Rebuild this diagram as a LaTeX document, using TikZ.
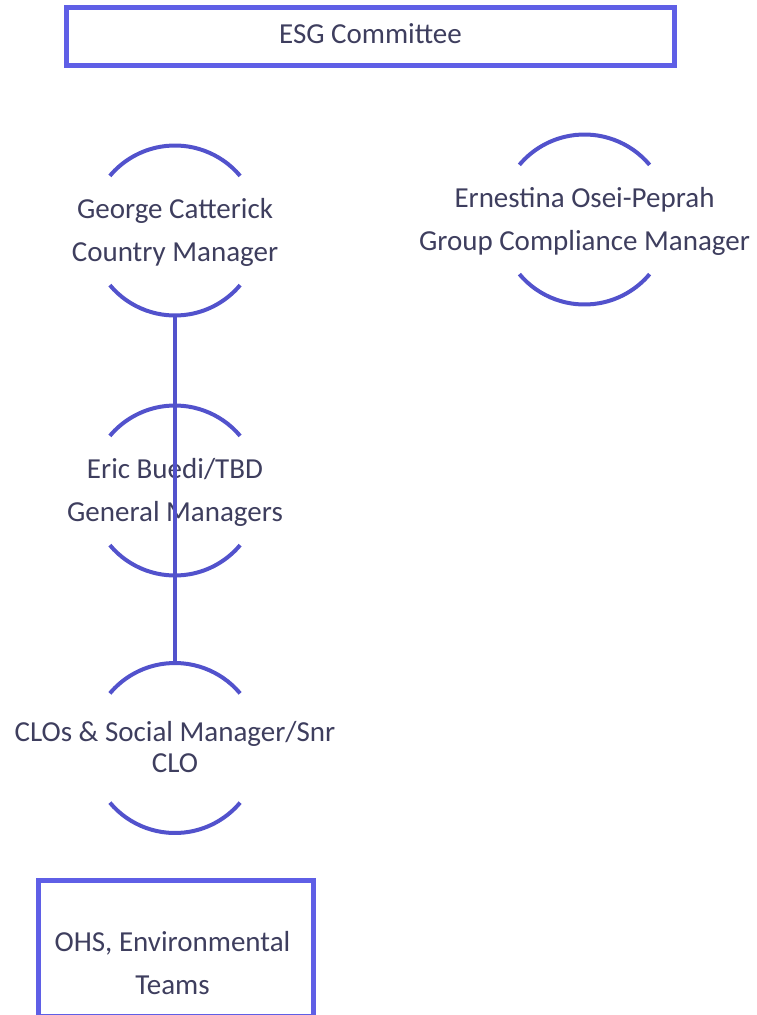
\documentclass[tikz,border=0pt]{standalone}
\usepackage{fontspec}
\setmainfont{Carlito}
\usetikzlibrary{positioning}
\tikzset{
    % Colors
    frame color/.style={color={rgb,255:red,95;green,95;blue,230}},
    ring color/.style={color={rgb,255:red,82;green,82;blue,204}},
    label color/.style={text={rgb,255:red,62;green,62;blue,94}},
    %
    % Nodes
    unit box/.style={draw,frame color,line width=5pt,inner sep=0pt,label color},
    person/.style={align=center,inner sep=0pt,outer sep=0pt,minimum width=170pt,minimum height=170pt,text height=68pt,text depth=6pt,label color},
    team text/.style={align=center,inner sep=0pt,label color},
    %
    % Lines
    ring/.style={ring color,line width=4pt},
    reports to/.style={ring color,line width=4pt}
}
\tikzstyle{every node}=[font=\fontsize{29}{43}\selectfont]

\begin{document}
\begin{tikzpicture}[x=1pt,y=1pt]
        \useasboundingbox (0,0) rectangle (756,-1015);
        \clip (0,0) rectangle (756,-1015);
        
        \node[unit box,minimum width=607.5pt,minimum height=57.8pt,text height=19pt,text depth=4pt] (committee) at (370.5,-36.4) {ESG Committee};
        
        \node[person] (george) at (175,-230.5) {George Catterick\\Country Manager};
        \node[person] (ernestina) at (584.5,-219.5) {Ernestina Osei-Peprah\\Group Compliance Manager};
        \node[person] (eric) at (175,-490.5) {Eric Buedi/TBD\\General Managers};
        \node[person,font=\fontsize{29}{31}\selectfont,text height=55pt] (clo) at (175,-748) {CLOs \& Social Manager/Snr\\CLO};
        
        % half rings round each person
        \foreach \who in {george,ernestina,eric,clo}{
            \draw[ring] (\who.center) ++(40:85) arc[start angle=40,end angle=140,radius=85];
            \draw[ring] (\who.center) ++(220:85) arc[start angle=220,end angle=320,radius=85];
        }
        
        \draw[reports to] (george.south) -- (clo.north);
        
        \node[unit box,minimum width=274.3pt,minimum height=136pt] (teams box) at (176,-948.5) {};
        \node[team text] (teams) at (172.5,-963) {OHS, Environmental\\Teams};
    \end{tikzpicture}
\end{document}
